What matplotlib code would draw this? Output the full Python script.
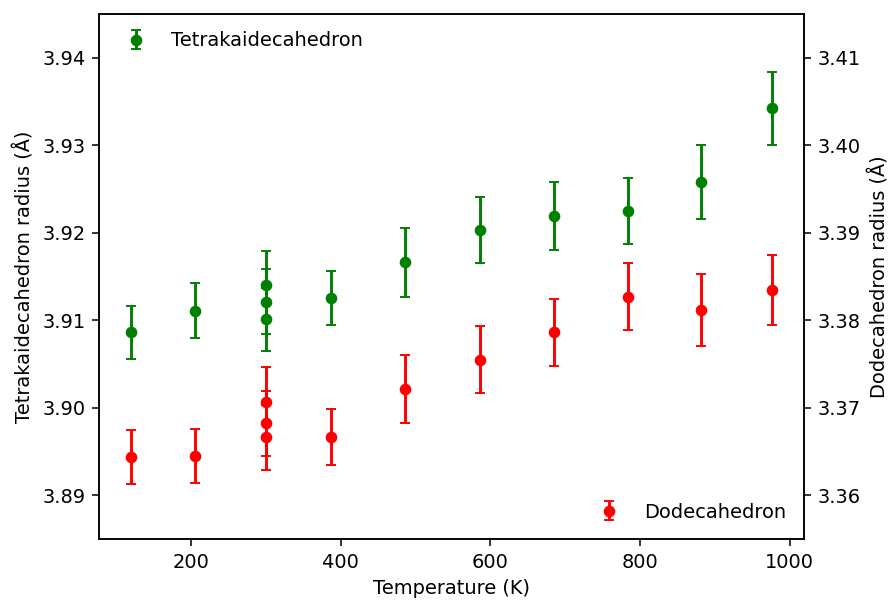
import matplotlib
matplotlib.use("Agg")
import matplotlib.pyplot as plt
import numpy as np

# Temperatures (K)
temp = [120, 205, 300, 300, 300, 387, 486, 586, 685, 784, 881, 976]

# Tetrakaidecahedron radius (Å) and error
tetra = [3.9086, 3.9111, 3.9140, 3.9121, 3.9101, 3.9125, 3.9166, 3.9203, 3.9219, 3.9225, 3.9258, 3.9342]
tetra_err = [0.0030, 0.0031, 0.0039, 0.0037, 0.0036, 0.0031, 0.0039, 0.0038, 0.0039, 0.0038, 0.0042, 0.0042]

# Dodecahedron radius (Å) and error
dodeca = [3.3644, 3.3645, 3.3707, 3.3682, 3.3666, 3.3666, 3.3721, 3.3755, 3.3786, 3.3827, 3.3812, 3.3834]
dodeca_err = [0.0031, 0.0031, 0.0039, 0.0037, 0.0037, 0.0032, 0.0039, 0.0038, 0.0038, 0.0038, 0.0041, 0.0040]

dpi = 139.375
fig = plt.figure(figsize=(892 / dpi, 601 / dpi), dpi=dpi)
ax1 = fig.add_axes([0.1115, 0.1032, 0.7895, 0.8735])
ax2 = ax1.twinx()

ax1.errorbar(temp, tetra, yerr=tetra_err, fmt='o', color='g', markersize=5,
             capsize=2.5, label='Tetrakaidecahedron')
ax2.errorbar(temp, dodeca, yerr=dodeca_err, fmt='o', color='r', markersize=5,
             capsize=2.5, label='Dodecahedron')

ax1.set_ylim(3.885, 3.945)
ax2.set_ylim(3.355, 3.415)
ax1.set_yticks([3.89, 3.90, 3.91, 3.92, 3.93, 3.94])
ax2.set_yticks([3.36, 3.37, 3.38, 3.39, 3.40, 3.41])

ax1.set_xlabel('Temperature (K)')
ax1.set_ylabel('Tetrakaidecahedron radius (Å)')
ax2.set_ylabel('Dodecahedron radius (Å)')

ax1.legend(loc='upper left', frameon=False)
ax2.legend(loc='lower right', frameon=False)

fig.savefig('out.png', dpi=dpi)
